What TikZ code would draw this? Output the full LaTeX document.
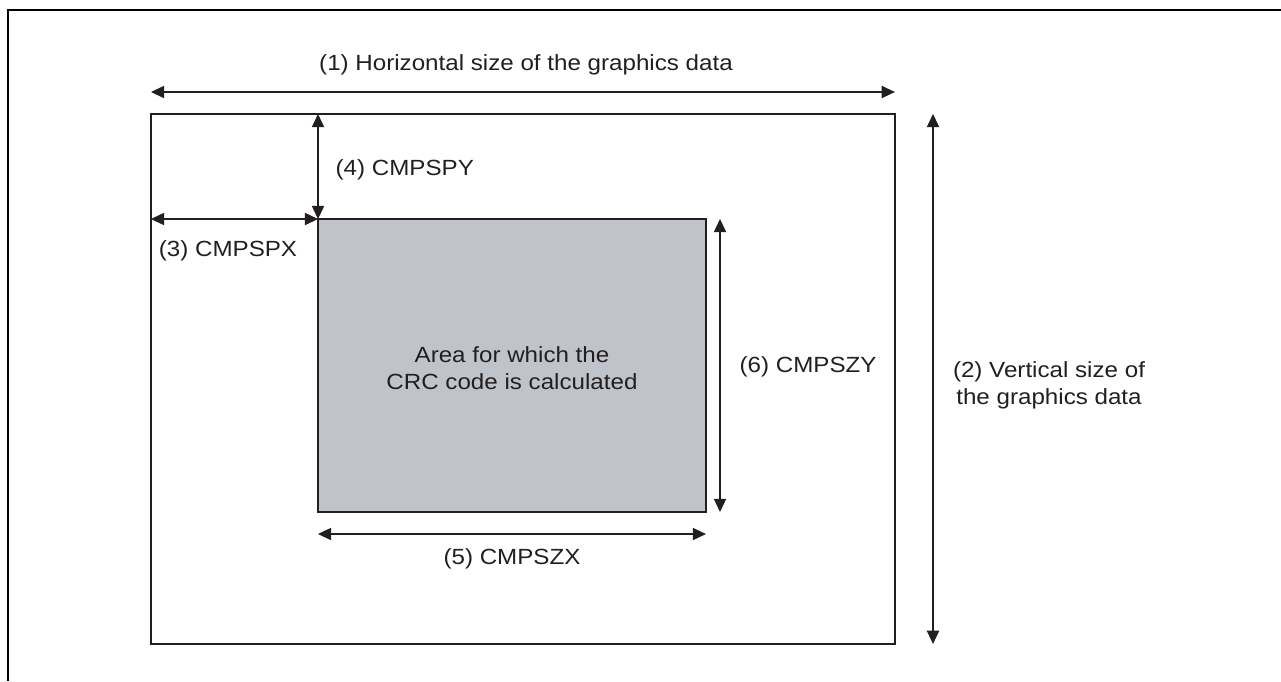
\documentclass[tikz,border=0pt]{standalone}
\usepackage{fontspec}
\setmainfont[FakeStretch=1.1]{Liberation Sans}
\usetikzlibrary{arrows.meta}
\definecolor{ink}{HTML}{231F20}
\definecolor{areagray}{HTML}{C1C3CA}
\begin{document}
\fontsize{12.5}{15.4}\selectfont
\begin{tikzpicture}[x=0.02cm, y=-0.02cm, >={Triangle[length=7.5pt,width=7pt]},
    every node/.style={text=ink, align=center},
    frame/.style={draw=ink, line width=1.1pt, inner sep=0pt, outer sep=0pt, anchor=north west},
    dim/.style={<->, draw=ink, line width=0.6pt}]
    \useasboundingbox (0,0) rectangle (1281,681);
    \draw[line width=1.6pt] (8,681) -- (8,10) -- (1281,10);

    \node[frame, minimum width=14.88cm, minimum height=10.6cm] (data) at (151,114) {};
    \node[frame, fill=areagray, minimum width=7.76cm, minimum height=5.86cm] (area) at (318,219) {};
    \node (areatext) at (512,368) {Area for which the\\CRC code is calculated};

    \coordinate (h1) at (0,92);
    \coordinate (v2) at (933,0);
    \coordinate (h5) at (0,534);
    \coordinate (v6) at (720,0);

    \draw[dim] (data.north west |- h1) -- (data.north east |- h1);
    \node (lbl1) at (526,65) {(1) Horizontal size of the graphics data};

    \draw[dim] (data.north east -| v2) -- (data.south east -| v2);
    \node (lbl2) at (1049,385) {(2) Vertical size of\\the graphics data};

    \draw[dim] (data.west |- area.north west) -- (area.north west);
    \node (lbl3) at (228,251) {(3) CMPSPX};

    \draw[dim] (area.north west |- data.north) -- (area.north west);
    \node[anchor=west] (lbl4) at (328,170) {(4) CMPSPY};

    \draw[dim] (area.south west |- h5) -- (area.south east |- h5);
    \node (lbl5) at (512,559) {(5) CMPSZX};

    \draw[dim] (area.north east -| v6) -- (area.south east -| v6);
    \node[anchor=west] (lbl6) at (732,367) {(6) CMPSZY};
\end{tikzpicture}
\end{document}
